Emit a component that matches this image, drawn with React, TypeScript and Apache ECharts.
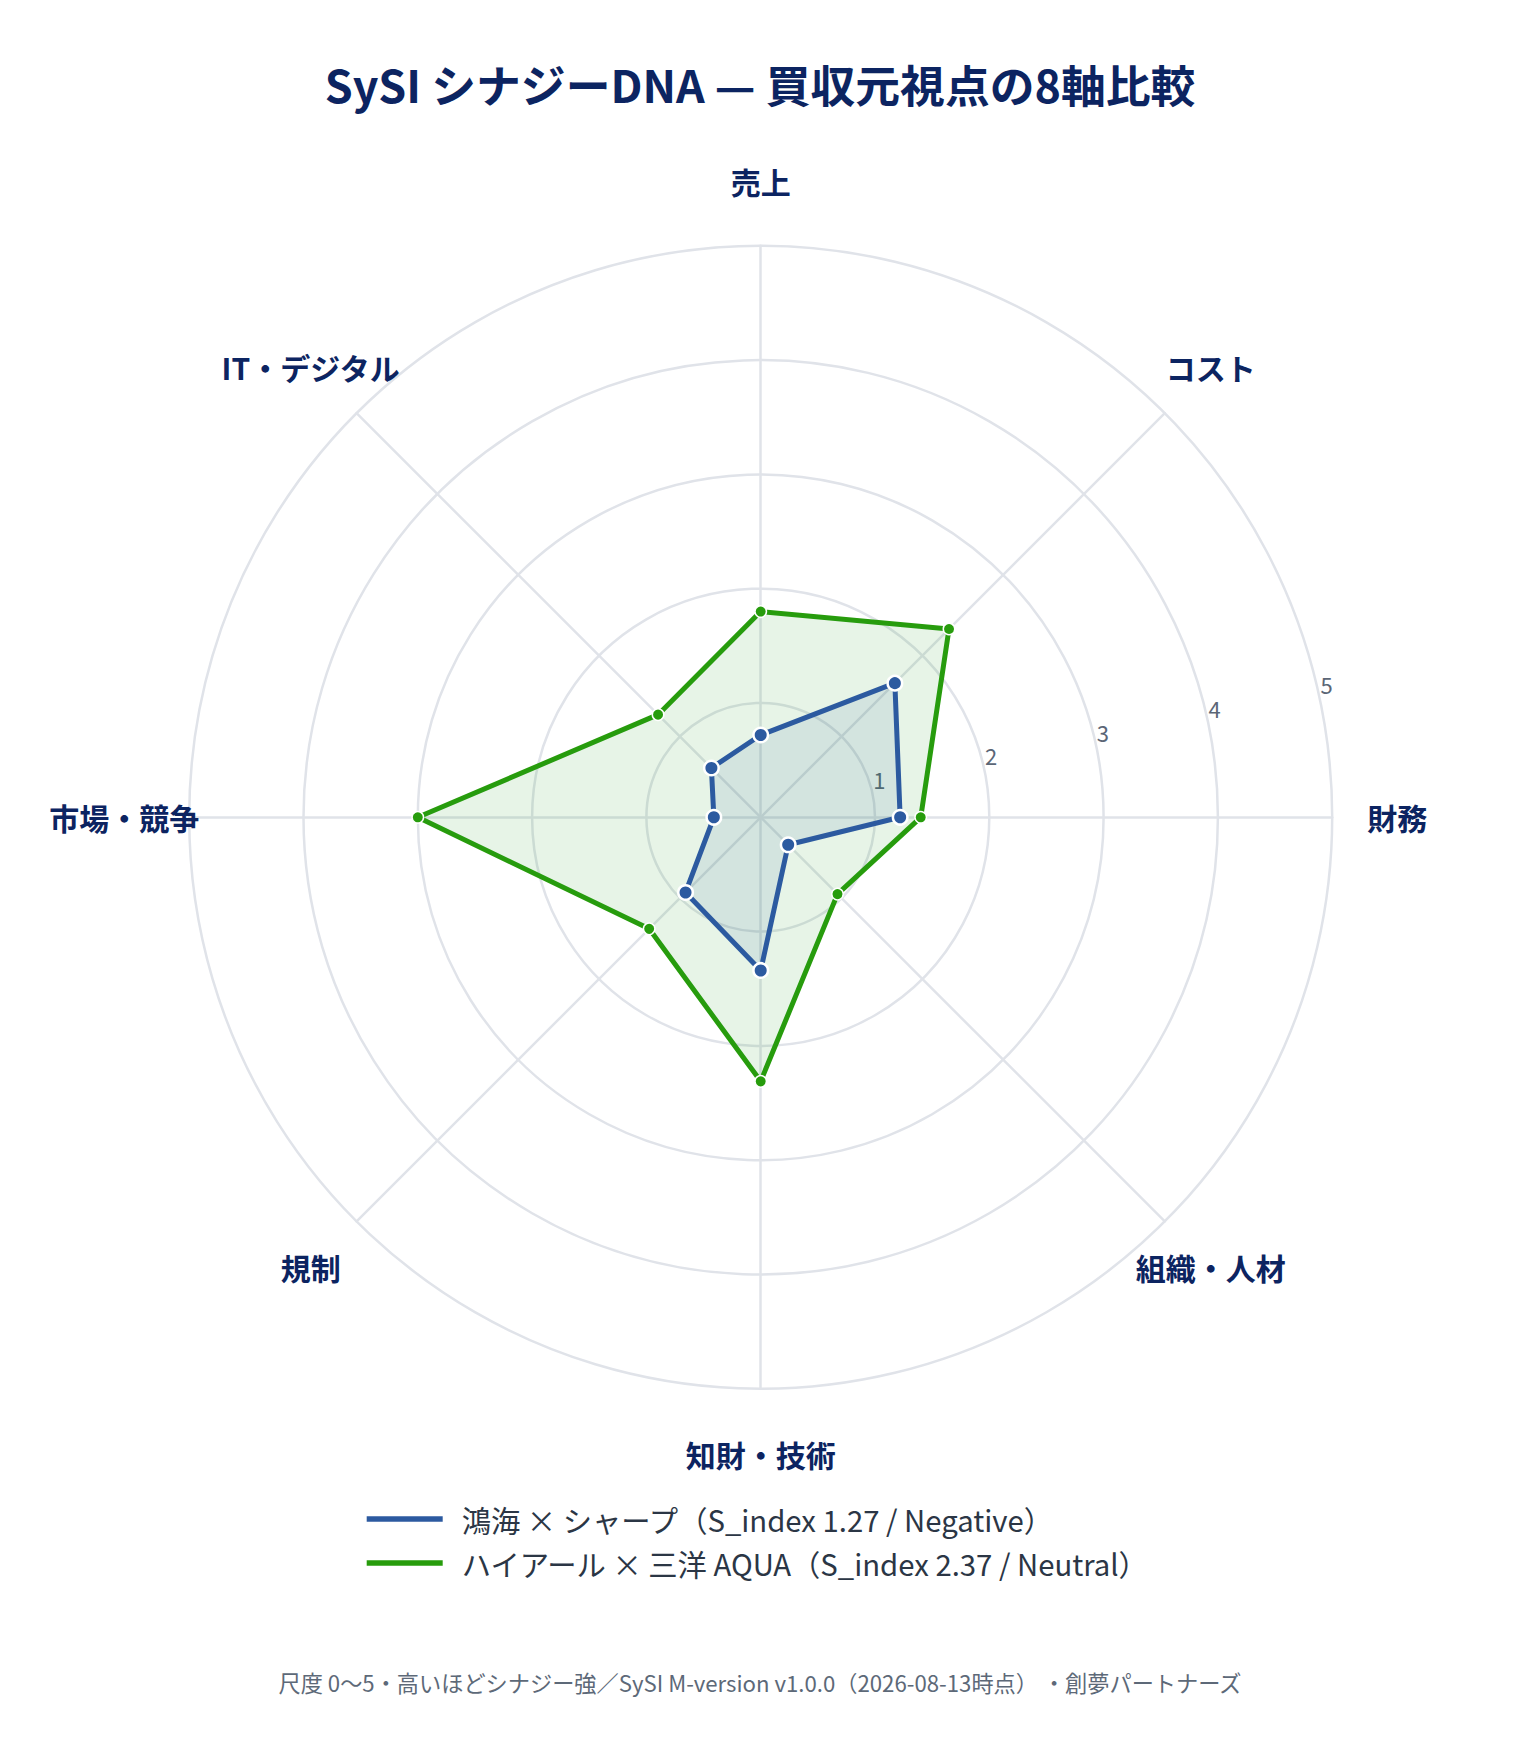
import React, { useEffect, useRef } from "react";
import * as echarts from "echarts";

// Axes listed clockwise starting at the top
const axisNames = ["売上", "コスト", "財務", "組織・人材", "知財・技術", "規制", "市場・競争", "IT・デジタル"];
const seriesNames = [
  "鴻海 × シャープ（S_index 1.27 / Negative）",
  "ハイアール × 三洋 AQUA（S_index 2.37 / Neutral）",
];
const hongHaiSharp = [0.72, 1.66, 1.22, 0.34, 1.34, 0.93, 0.41, 0.61];
const haierAqua = [1.8, 2.33, 1.4, 0.95, 2.31, 1.38, 3.0, 1.27];
const scaleTicks = [0, 1, 2, 3, 4, 5];
const titleText = "SySI シナジーDNA — 買収元視点の8軸比較";
const footerText = "尺度 0〜5・高いほどシナジー強／SySI M-version v1.0.0（2026-08-13時点） ・創夢パートナーズ";

const FONT = '"Noto Sans CJK JP", "Noto Sans", sans-serif';
const NAVY = "#0c2461";
const BLUE = "#2c5aa0";
const GREEN = "#279c0c";

// ECharts radar runs counter-clockwise; reorder so the picture runs clockwise
const ccwOrder = [0, 7, 6, 5, 4, 3, 2, 1];
const reorder = (arr: any[]) => ccwOrder.map((i) => arr[i]);

export default function App() {
  const ref = useRef<HTMLDivElement>(null);
  useEffect(() => {
    if (!ref.current) return;
    const chart = echarts.init(ref.current, null, { renderer: "svg" });
    const maxV = scaleTicks[scaleTicks.length - 1];
    const center = [752.7, 809.3];
    const radius = 571.5;
    chart.setOption({
      animation: false,
      backgroundColor: "#ffffff",
      textStyle: { fontFamily: FONT },
      title: [
        {
          text: titleText,
          left: "center",
          top: 43,
          textStyle: { fontFamily: FONT, fontSize: 44.8, fontWeight: "bold", color: NAVY, lineHeight: 54 },
        },
        {
          text: footerText,
          left: "center",
          top: 1656,
          textStyle: { fontFamily: FONT, fontSize: 22.2, fontWeight: "normal", color: "#5d6978", lineHeight: 26 },
        },
      ],
      legend: {
        orient: "vertical",
        left: 353.7,
        top: 1489,
        data: seriesNames,
        icon: "rect",
        itemWidth: 76,
        itemHeight: 5.5,
        itemGap: 10,
        itemStyle: { borderWidth: 0 },
        textStyle: { fontFamily: FONT, fontSize: 29.3, color: "#2b3645", lineHeight: 34, padding: [0, 0, 0, 14] },
      },
      radar: {
        center,
        radius,
        shape: "circle",
        splitNumber: 5,
        startAngle: 90,
        indicator: reorder(axisNames).map((n) => ({ name: n, min: 0, max: maxV })),
        nameGap: 65,
        axisName: {
          color: NAVY,
          fontFamily: FONT,
          fontSize: 30,
          fontWeight: "bold",
          align: "center",
          verticalAlign: "middle",
        },
        splitArea: { show: false },
        splitLine: { lineStyle: { color: "#e0e3e9", width: 2.5 } },
        axisLine: { lineStyle: { color: "#e0e3e9", width: 2.5 } },
        axisTick: { show: false },
        axisLabel: { show: false },
      },
      polar: { center: [center[0] + 15, center[1] - 4.5], radius },
      angleAxis: {
        type: "value",
        startAngle: 12,
        min: 0,
        max: 360,
        show: false,
      },
      radiusAxis: {
        type: "value",
        min: 0,
        max: maxV,
        interval: 1,
        axisLine: { show: false },
        axisTick: { show: false },
        splitLine: { show: false },
        axisLabel: {
          show: true,
          showMinLabel: false,
          color: "#5b6676",
          fontFamily: FONT,
          fontSize: 22,
          margin: 10,
        },
      },
      series: [
        {
          type: "radar",
          name: seriesNames[1],
          z: 2,
          symbol: "circle",
          symbolSize: 11.5,
          lineStyle: { color: GREEN, width: 5 },
          itemStyle: { color: GREEN, borderColor: "#ffffff", borderWidth: 1.5 },
          areaStyle: { color: "rgba(44,160,44,0.16)" },
          data: [{ value: reorder(haierAqua), name: seriesNames[1] }],
        },
        {
          type: "radar",
          name: seriesNames[0],
          z: 3,
          symbol: "circle",
          symbolSize: 14.5,
          lineStyle: { color: BLUE, width: 5 },
          itemStyle: { color: BLUE, borderColor: "#ffffff", borderWidth: 2.5 },
          areaStyle: { color: "rgba(44,90,160,0.15)" },
          data: [{ value: reorder(hongHaiSharp), name: seriesNames[0] }],
        },
      ],
    });
    return () => chart.dispose();
  }, []);
  return <div ref={ref} style={{ width: 1504, height: 1723 }} />;
}
